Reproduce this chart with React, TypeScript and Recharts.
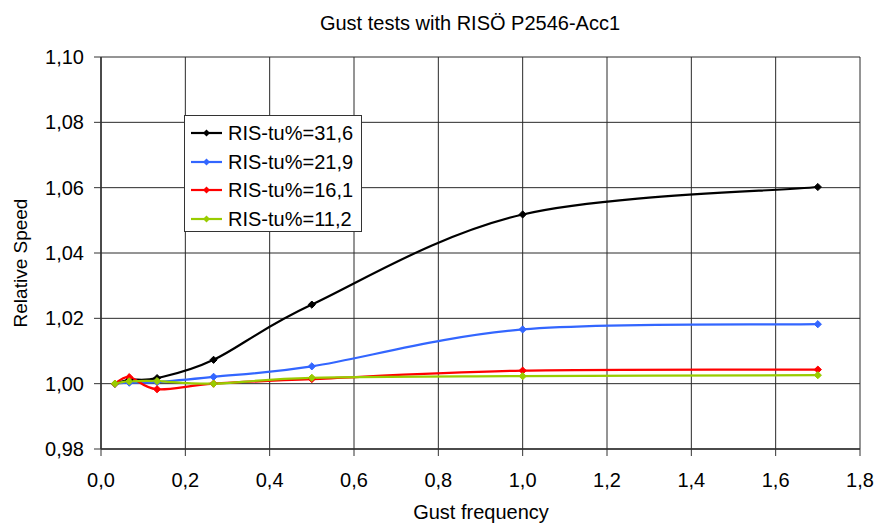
import React from "react";
import { LineChart, Line, XAxis, YAxis, CartesianGrid } from "recharts";

const frequencies = [0.033, 0.067, 0.133, 0.267, 0.5, 1.0, 1.7];
const tu316 = [1.0, 1.0012, 1.0017, 1.0073, 1.0242, 1.0518, 1.0602];
const tu219 = [1.0, 1.0003, 1.0005, 1.0021, 1.0053, 1.0166, 1.0182];
const tu161 = [1.0, 1.002, 0.9983, 1.0, 1.0014, 1.004, 1.0043];
const tu112 = [1.0, 1.0007, 1.0008, 1.0, 1.0018, 1.0023, 1.0026];

const xTicks = [0, 0.2, 0.4, 0.6, 0.8, 1.0, 1.2, 1.4, 1.6, 1.8];
const yTicks = [0.98, 1.0, 1.02, 1.04, 1.06, 1.08, 1.1];

const seriesNames = ["RIS-tu%=31,6", "RIS-tu%=21,9", "RIS-tu%=16,1", "RIS-tu%=11,2"];
const seriesKeys = ["s316", "s219", "s161", "s112"];
const seriesColors = ["#000000", "#3366FF", "#FF0000", "#99CC00"];
const seriesValues = [tu316, tu219, tu161, tu112];

const data = frequencies.map((f, i) => {
  const row: Record<string, number> = { f };
  seriesKeys.forEach((k, j) => {
    row[k] = seriesValues[j][i];
  });
  return row;
});

const FONT = "'Liberation Sans', Arial, sans-serif";

const comma = (v: number, d: number) => v.toFixed(d).replace(".", ",");

// Smoothed (Catmull-Rom style Bezier) curve, similar to spreadsheet "smoothed line"
const smoothCurve = (context: any) => {
  let pts: number[][] = [];
  let inArea = NaN;
  return {
    areaStart() {
      inArea = 0;
    },
    areaEnd() {
      inArea = NaN;
    },
    lineStart() {
      pts = [];
    },
    point(x: number, y: number) {
      pts.push([+x, +y]);
    },
    lineEnd() {
      const n = pts.length;
      if (n === 0) return;
      context.moveTo(pts[0][0], pts[0][1]);
      if (n === 1) return;
      for (let i = 0; i < n - 1; i++) {
        const p0 = pts[i - 1] || pts[i];
        const p1 = pts[i];
        const p2 = pts[i + 1];
        const p3 = pts[i + 2] || pts[i + 1];
        const c1x = p1[0] + (p2[0] - p0[0]) / 6;
        const c1y = p1[1] + (p2[1] - p0[1]) / 6;
        const c2x = p2[0] - (p3[0] - p1[0]) / 6;
        const c2y = p2[1] - (p3[1] - p1[1]) / 6;
        context.bezierCurveTo(c1x, c1y, c2x, c2y, p2[0], p2[1]);
      }
      if (inArea === 0) context.closePath();
    },
  };
};

const makeDot = (color: string) => (props: any) => {
  const { cx, cy, index } = props;
  if (cx == null || cy == null) return <g key={index} />;
  const r = 3.6;
  return (
    <path
      key={index}
      d={`M${cx},${cy - r}L${cx + r},${cy}L${cx},${cy + r}L${cx - r},${cy}Z`}
      fill={color}
      stroke={color}
      strokeWidth={1}
    />
  );
};

const LegendBox = () => (
  <div
    style={{
      position: "absolute",
      left: 184,
      top: 115,
      width: 178,
      height: 117,
      boxSizing: "border-box",
      border: "1px solid #333",
      background: "#fff",
      fontFamily: FONT,
    }}
  >
    {seriesNames.map((name, i) => {
      const cy = 17 + i * 28.7;
      return (
        <div key={name} style={{ position: "absolute", left: 0, top: cy - 14, height: 28, width: 176 }}>
          <svg width={40} height={28} style={{ position: "absolute", left: 0, top: 0 }}>
            <line x1={6} y1={14} x2={37} y2={14} stroke={seriesColors[i]} strokeWidth={2.2} />
            <path d="M21.5,10.5L25,14L21.5,17.5L18,14Z" fill={seriesColors[i]} />
          </svg>
          <span
            style={{
              position: "absolute",
              left: 43,
              top: 0,
              lineHeight: "28px",
              fontSize: 20,
              color: "#000",
              whiteSpace: "nowrap",
            }}
          >
            {name}
          </span>
        </div>
      );
    })}
  </div>
);

export default function App() {
  return (
    <div style={{ position: "absolute", left: 0, top: 0, width: 878, height: 524, background: "#fff" }}>
      <LineChart
        width={878}
        height={524}
        data={data}
        margin={{ top: 57, right: 18, bottom: 5, left: 11 }}
      >
        <CartesianGrid stroke="#2a2a2a" strokeWidth={1} />
        <XAxis
          dataKey="f"
          type="number"
          domain={[0, 1.8]}
          ticks={xTicks}
          allowDataOverflow
          height={70}
          tickFormatter={(v: number) => comma(v, 1)}
          tick={{ fill: "#000", fontSize: 20, fontFamily: FONT }}
          tickSize={7}
          tickMargin={17}
          axisLine={{ stroke: "#333", strokeWidth: 1.5 }}
          tickLine={{ stroke: "#333" }}
        />
        <YAxis
          type="number"
          domain={[0.98, 1.1]}
          ticks={yTicks}
          allowDataOverflow
          width={90}
          tickFormatter={(v: number) => comma(v, 2)}
          tick={{ fill: "#000", fontSize: 20, fontFamily: FONT }}
          tickSize={7}
          tickMargin={10}
          axisLine={{ stroke: "#333", strokeWidth: 1.5 }}
          tickLine={{ stroke: "#333" }}
        />
        {seriesKeys.map((k, i) => (
          <Line
            key={k}
            dataKey={k}
            name={seriesNames[i]}
            type={smoothCurve as any}
            stroke={seriesColors[i]}
            strokeWidth={2.2}
            dot={makeDot(seriesColors[i])}
            activeDot={false}
            isAnimationActive={false}
          />
        ))}
      </LineChart>
      <LegendBox />
      <svg
        width={878}
        height={524}
        style={{ position: "absolute", left: 0, top: 0, pointerEvents: "none" }}
      >
        <text x={470} y={30} textAnchor="middle" fontSize={20} fontFamily={FONT} fill="#000">
          Gust tests with RISÖ P2546-Acc1
        </text>
        <text x={481} y={519} textAnchor="middle" fontSize={20} fontFamily={FONT} fill="#000">
          Gust frequency
        </text>
        <text
          x={27}
          y={263}
          textAnchor="middle"
          fontSize={19}
          fontFamily={FONT}
          fill="#000"
          transform="rotate(-90, 27, 263)"
        >
          Relative Speed
        </text>
      </svg>
    </div>
  );
}
